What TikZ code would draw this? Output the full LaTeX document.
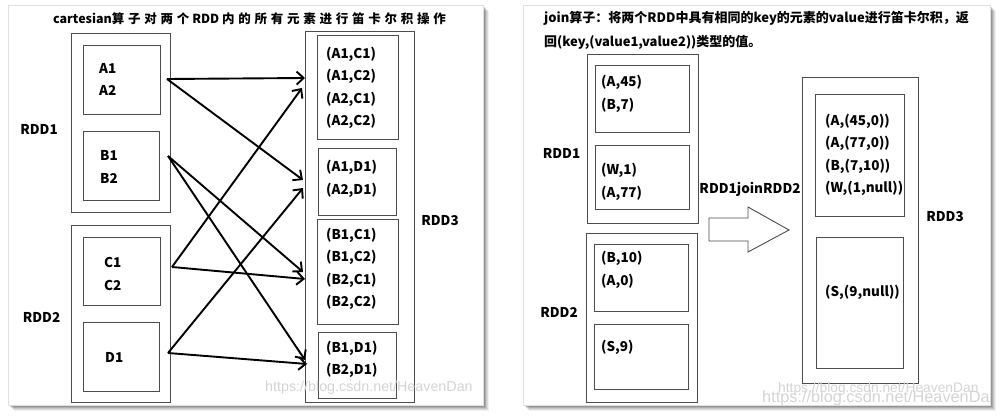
\documentclass[tikz,border=0pt]{standalone}
\usepackage{fontspec}
\setmainfont{Noto Sans CJK SC}
\newfontfamily\wmfont{Liberation Sans}
\usetikzlibrary{arrows.meta}
\newcommand{\spc}[1]{{\addfontfeature{LetterSpace=30}#1}}
\begin{document}
\begin{tikzpicture}[x=1pt,y=-1pt,
  box/.style={draw=black!70, line width=0.9pt, rectangle, inner sep=0pt},
  txt/.style={font=\fontsize{13.5}{22.5}\selectfont\bfseries, align=left, inner sep=0pt, anchor=west},
  lbl/.style={font=\fontsize{13.5}{16}\selectfont\bfseries, inner sep=0pt},
  conn/.style={line width=1.9pt, -{Straight Barb[length=7pt,width=13pt,line width=1.9pt]}},
  wm/.style={font=\wmfont, text=black!17, inner sep=0pt, anchor=west},
  panel/.style={fill=white, draw=black!12, line width=0.6pt}]
\useasboundingbox (0,0) rectangle (1000,417);
\fill[white] (0,0) rectangle (1000,417);
% shadows
\foreach \s/\o in {6/0.06,5/0.08,4/0.10,3/0.12,2/0.14,1/0.16}{
  \fill[black,opacity=\o] (8+\s,5+\s) rectangle (483+\s,405+\s);
  \fill[black,opacity=\o] (523+\s,5+\s) rectangle (990+\s,405+\s);
}
\draw[panel] (8,5) rectangle (483,405);
\draw[panel] (523,5) rectangle (990,405);

% ================= left panel =================
\node[lbl, font=\fontsize{12.5}{15}\selectfont\bfseries] (ltitle) at (249.5,19)
  {cartesian\spc{算子对两个} RDD \spc{内的所有元素进行笛卡尔积操作}};

\node[box, minimum width=99pt, minimum height=179pt] (rdd1) at (120.5,122.5) {};
\node[box, minimum width=77pt, minimum height=69pt] (pa) at (121.5,79.5) {};
\node[box, minimum width=76pt, minimum height=69pt] (pb) at (121,165.5) {};
\node[box, minimum width=99pt, minimum height=177pt] (rdd2) at (120.5,313.5) {};
\node[box, minimum width=77pt, minimum height=68pt] (pc) at (121.5,271) {};
\node[box, minimum width=76pt, minimum height=69pt] (pd) at (121,356.5) {};

\node[box, minimum width=109pt, minimum height=371pt] (rdd3) at (359.5,216.5) {};
\node[box, minimum width=81pt, minimum height=104pt] (q1) at (357.5,87) {};
\node[box, minimum width=78pt, minimum height=67pt] (q2) at (357,181.5) {};
\node[box, minimum width=81pt, minimum height=105pt] (q3) at (357.5,271.5) {};
\node[box, minimum width=78pt, minimum height=66pt] (q4) at (357,365) {};

\node[txt] (ta) at (99,79.5) {A1\\A2};
\node[txt] (tb) at (100,167) {B1\\B2};
\node[txt] (tc) at (104,274) {C1\\C2};
\node[txt] (td) at (105,357) {D1};
\node[txt] (t1) at (326,88) {(A1,C1)\\(A1,C2)\\(A2,C1)\\(A2,C2)};
\node[txt] (t2) at (326,179) {(A1,D1)\\(A2,D1)};
\node[txt] (t3) at (326,269) {(B1,C1)\\(B1,C2)\\(B2,C1)\\(B2,C2)};
\node[txt] (t4) at (326,359.5) {(B1,D1)\\(B2,D1)};

\node[lbl] (l1) at (39,129) {RDD1};
\node[lbl] (l2) at (41.5,317) {RDD2};
\node[lbl] (l3) at (440,221) {RDD3};

% connector end points
\coordinate (sA) at (167,79);
\coordinate (sB) at (168,156);
\coordinate (sC) at (172,267);
\coordinate (sD) at (168,353);
\coordinate (eA1) at (305,78);
\coordinate (eA2) at (303,180);
\coordinate (eB3) at (303,272);
\coordinate (eB4) at (305,360);
\coordinate (eC1) at (302,88);
\coordinate (eC3) at (305,279);
\coordinate (eD2) at (303,188);
\coordinate (eD4) at (307,364);
\draw[conn] (sA) -- (eA1);
\draw[conn] (sA) -- (eA2);
\draw[conn] (sB) -- (eB3);
\draw[conn] (sB) -- (eB4);
\draw[conn] (sC) -- (eC1);
\draw[conn] (sC) -- (eC3);
\draw[conn] (sD) -- (eD2);
\draw[conn] (sD) -- (eD4);

\node[wm, font=\wmfont\fontsize{14.3}{16}\selectfont] (wm1) at (265,388) {https://blog.csdn.net/HeavenDan};

% ================= right panel =================
\node[txt, font=\fontsize{13}{15}\selectfont\bfseries] (rt1) at (544,18)
  {join算子：将两个RDD中具有相同的key的元素的value进行笛卡尔积，返};
\node[txt, font=\fontsize{13}{15}\selectfont\bfseries] (rt2) at (544,42)
  {回(key,(value1,value2))类型的值。};

\node[box, minimum width=111pt, minimum height=169pt] (jr1) at (642.5,138.5) {};
\node[box, minimum width=94pt, minimum height=67pt] (ja) at (642,98.5) {};
\node[box, minimum width=94pt, minimum height=64pt] (jw) at (642,177) {};
\node[box, minimum width=111pt, minimum height=169pt] (jr2) at (641.5,317.5) {};
\node[box, minimum width=94pt, minimum height=67pt] (jb) at (641,277.5) {};
\node[box, minimum width=94pt, minimum height=65pt] (js) at (641,356.5) {};
\node[box, minimum width=116pt, minimum height=306pt] (jr3) at (860,230) {};
\node[box, minimum width=89pt, minimum height=122pt] (jo1) at (859.5,155) {};
\node[box, minimum width=87pt, minimum height=131pt] (jo2) at (859.5,302.5) {};

\node[txt] (ua) at (601,94) {(A,45)\\(B,7)};
\node[txt] (uw) at (601,182) {(W,1)\\(A,77)};
\node[txt] (ub) at (601,270) {(B,10)\\(A,0)};
\node[txt] (us) at (601,347) {(S,9)};
\node[txt] (uo1) at (825,155) {(A,(45,0))\\(A,(77,0))\\(B,(7,10))\\(W,(1,null))};
\node[txt] (uo2) at (825,292) {(S,(9,null))};

\node[lbl] (m1) at (561.5,153) {RDD1};
\node[lbl] (m2) at (559,312) {RDD2};
\node[lbl] (m3) at (945,217) {RDD3};
\node[lbl] (mj) at (750,189) {RDD1joinRDD2};

\draw[draw=black!70, line width=0.9pt, fill=white]
  (709,218) -- (748,218) -- (748,207) -- (789,230) -- (748,252) -- (748,241) -- (709,241) -- cycle;

\begin{scope}
\clip (523,5) rectangle (990,405);
\node[wm, font=\wmfont\fontsize{13.8}{16}\selectfont] (wm2) at (778,389) {https://blog.csdn.net/HeavenDan};
\node[wm, font=\wmfont\fontsize{16.3}{18}\selectfont] (wm3) at (762,398) {https://blog.csdn.net/HeavenDan};
\end{scope}
\end{tikzpicture}
\end{document}
